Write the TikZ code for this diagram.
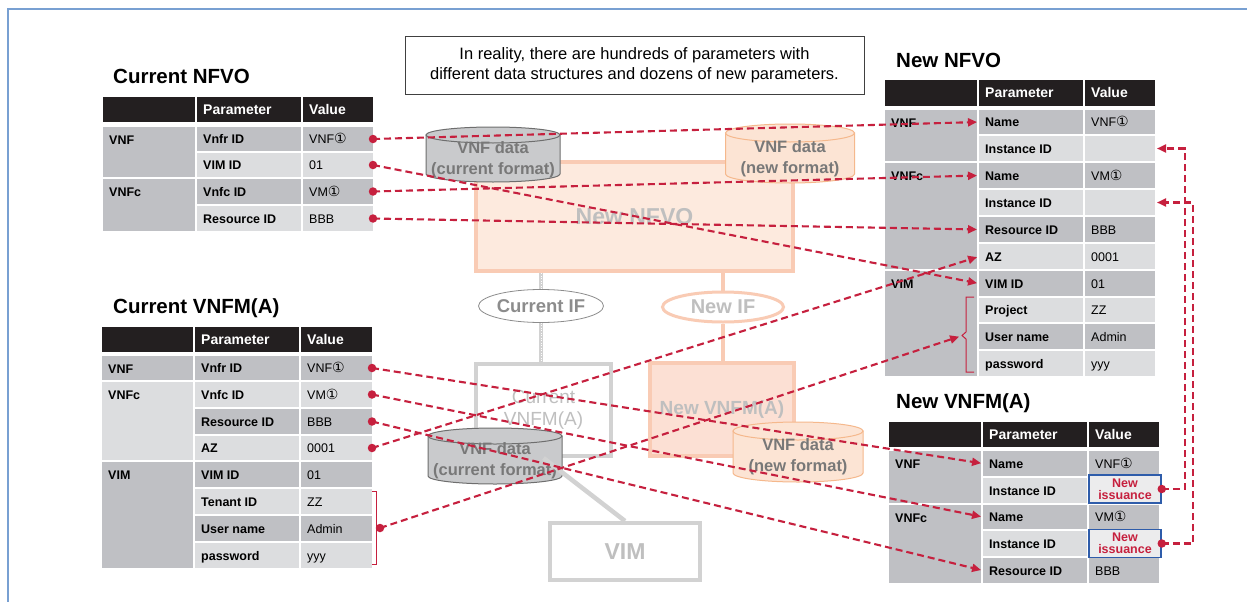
\documentclass[tikz,border=0pt]{standalone}
\usepackage{fontspec}
\setmainfont{Liberation Sans}
\newfontfamily\symf{DejaVu Sans}
\usetikzlibrary{arrows.meta,shapes.geometric}
\definecolor{hdr}{RGB}{35,31,32}
\definecolor{cdark}{RGB}{191,192,196}
\definecolor{clight}{RGB}{220,221,223}
\definecolor{redc}{RGB}{198,32,62}
\definecolor{frameblue}{RGB}{120,160,210}
\definecolor{fadegray}{RGB}{191,191,191}
\definecolor{boxgray}{RGB}{210,210,210}
\definecolor{peachfill}{RGB}{253,234,222}
\definecolor{peachdraw}{RGB}{249,203,180}
\definecolor{peachfilltwo}{RGB}{252,224,212}
\definecolor{cylgray}{RGB}{201,202,204}
\definecolor{cylgraydraw}{RGB}{110,110,110}
\definecolor{cylorange}{RGB}{252,228,212}
\definecolor{cylorangedraw}{RGB}{245,184,140}
\definecolor{cyltext}{RGB}{120,120,120}
\definecolor{issueblue}{RGB}{46,92,170}
\definecolor{ifgray}{RGB}{140,140,140}
\newcommand\cone{{\symf\fontsize{14}{14}\selectfont ①}}
\tikzset{
  cellnode/.style={rectangle, draw=none, inner sep=0pt, outer sep=0pt},
  ptext/.style={inner sep=0pt, font=\fontsize{12.5}{14}\selectfont\bfseries},
  vtext/.style={inner sep=0pt, font=\fontsize{12.5}{14}\selectfont},
  htext/.style={inner sep=0pt, text=white, font=\fontsize{14}{16}\selectfont\bfseries},
  ttl/.style={inner sep=0pt, anchor=base west, font=\fontsize{20.5}{24}\selectfont\bfseries},
  dot/.style={circle, fill=redc, draw=none, inner sep=0pt, minimum size=8.5pt},
  conn/.style={redc, line width=2.1pt, dash pattern=on 7pt off 4pt, shorten >=2pt, -{Triangle[length=9pt,width=8pt]}},
  cyltxt/.style={align=center, text=cyltext, font=\fontsize{16.5}{21}\selectfont\bfseries, inner sep=0pt},
  fadebox/.style={rectangle, line width=4pt, inner sep=0pt},
}
\newcommand\cellbox[8]{%
  \node[cellnode, fill=#6, minimum width={#4-#2}, minimum height={#5-#3}] (#1) at ({(#2+#4)/2},{(#3+#5)/2}) {};
  \node[#7, anchor=base west] (#1-t) at ([xshift=6pt,yshift=-4.6pt]#1.west) {#8};}
\newcommand\trow[6]{%
  \cellbox{#1p}{\colPa}{#2}{\colPb}{#3}{#4}{ptext}{#5}
  \cellbox{#1v}{\colVa}{#2}{\colVb}{#3}{#4}{vtext}{#6}}
\newcommand\grp[5]{%
  \node[cellnode, fill=#4, minimum width={\colGb-\colGa}, minimum height={#3-#2}] (#1) at ({(\colGa+\colGb)/2},{(#2+#3)/2}) {};
  \node[ptext, anchor=base west] (#1-t) at ({\colGa+6},{#2+17}) {#5};}
\newcommand\hdrrow[3]{%
  \cellbox{#1a}{\colGa}{#2}{\colGb}{#3}{hdr}{htext}{}
  \cellbox{#1b}{\colPa}{#2}{\colPb}{#3}{hdr}{htext}{Parameter}
  \cellbox{#1c}{\colVa}{#2}{\colVb}{#3}{hdr}{htext}{Value}}
\newcommand\cyl[9]{%
  \filldraw[fill=#7, draw=#8, line width=1pt] ({#2-#5/2},#3) -- ({#2-#5/2},#4) arc[start angle=180, end angle=0, x radius={#5/2}, y radius=#6] -- ({#2+#5/2},#3) -- cycle;
  \filldraw[fill=#7, draw=#8, line width=1pt] (#2,#3) ellipse[x radius={#5/2}, y radius=#6];
  \node[cyltxt] (#1) at (#2,{(#3+#4)/2+5}) {#9};}
\begin{document}
\begin{tikzpicture}[x=1pt,y=-1pt]
\useasboundingbox (0,0) rectangle (1247,602);
\fill[white] (0,0) rectangle (1247,602);
\draw[frameblue, line width=1.5pt] (8,602) -- (8,9) -- (1247,9);

% note
\node[draw=black!75, line width=0.8pt, minimum width=459, minimum height=58, align=center, inner sep=0pt,
  font=\fontsize{16.5}{20}\selectfont] (note) at (634.5,65) {In reality, there are hundreds of parameters with\\different data structures and dozens of new parameters.};

% background system diagram
\node[fadebox, draw=peachdraw, fill=peachfill, minimum width=317, minimum height=109,
  text=fadegray, font=\fontsize{23}{26}\selectfont\bfseries] (nfvo) at (634.5,216.5) {New NFVO};
\node[fadebox, draw=boxgray, fill=white, minimum width=135, minimum height=92, align=center,
  text=fadegray, font=\fontsize{19}{22}\selectfont] (cvnfm) at (543.5,410) {Current\\VNFM(A)};
\node[fadebox, draw=peachdraw, fill=peachfilltwo, minimum width=144, minimum height=93,
  text=fadegray, font=\fontsize{19}{22}\selectfont\bfseries] (nvnfm) at (722,409.5) {New VNFM(A)};
\node[fadebox, draw=boxgray, fill=white, minimum width=150, minimum height=57,
  text=fadegray, font=\fontsize{23}{26}\selectfont\bfseries] (vim) at (625,551.5) {VIM};
\node[ellipse, draw=ifgray, line width=0.8pt, fill=white, minimum width=108, minimum height=33, inner sep=0pt,
  text=ifgray, font=\fontsize{18.5}{20}\selectfont\bfseries] (cif) at (541,306) {Current IF};
\node[ellipse, draw=peachdraw, line width=3pt, fill=white, minimum width=121, minimum height=30, inner sep=0pt,
  text=fadegray, font=\fontsize{20}{22}\selectfont\bfseries] (nif) at (723,307) {New IF};
\draw[boxgray, line width=4pt] (cif.north) -- (cif.north |- nfvo.south);
\draw[boxgray, line width=4pt] (cif.south) -- (cif.south |- cvnfm.north);
\draw[white, line width=1pt, dash pattern=on 1pt off 1.5pt] (cif.north) -- (cif.north |- nfvo.south);
\draw[white, line width=1pt, dash pattern=on 1pt off 1.5pt] (cif.south) -- (cif.south |- cvnfm.north);
\draw[peachdraw, line width=4pt] (nif.north) -- (nif.north |- nfvo.south);
\draw[peachdraw, line width=4pt] (nif.south) -- (nif.south |- nvnfm.north);

\cyl{cylA}{493}{135}{174}{134}{8}{cylgray}{cylgraydraw}{VNF data\\(current format)}
\cyl{cylB}{790}{133}{174}{129}{9}{cylorange}{cylorangedraw}{VNF data\\(new format)}
\cyl{cylC}{495}{436}{476}{134}{8}{cylgray}{cylgraydraw}{VNF data\\(current format)}
\cyl{cylD}{798}{431}{473}{130}{9}{cylorange}{cylorangedraw}{VNF data\\(new format)}
\draw[boxgray, line width=4.5pt] (cvnfm.south) -- (vim.north);

% Current NFVO
\node[ttl] (tcn) at (113,83) {Current NFVO};
\def\colGa{103}\def\colGb{195}\def\colPa{197}\def\colPb{301}\def\colVa{303}\def\colVb{373}
\hdrrow{cnh}{97}{122}
\grp{cng1}{127}{177}{cdark}{VNF}
\grp{cng2}{179}{231}{cdark}{VNFc}
\trow{cn1}{127}{151}{cdark}{Vnfr ID}{VNF\cone}
\trow{cn2}{153}{177}{clight}{VIM ID}{01}
\trow{cn3}{179}{204}{cdark}{Vnfc ID}{VM\cone}
\trow{cn4}{206}{231}{clight}{Resource ID}{BBB}

% Current VNFM(A)
\node[ttl] (tcv) at (113,313) {Current VNFM(A)};
\def\colGa{102}\def\colGb{193}\def\colPa{195}\def\colPb{299}\def\colVa{301}\def\colVb{372}
\hdrrow{cvh}{327}{352}
\grp{cvg1}{356}{380}{cdark}{VNF}
\grp{cvg2}{382}{460}{clight}{VNFc}
\grp{cvg3}{462}{568}{cdark}{VIM}
\trow{cv1}{356}{380}{cdark}{Vnfr ID}{VNF\cone}
\trow{cv2}{382}{407}{clight}{Vnfc ID}{VM\cone}
\trow{cv3}{409}{434}{cdark}{Resource ID}{BBB}
\trow{cv4}{436}{460}{clight}{AZ}{0001}
\trow{cv5}{462}{487}{cdark}{VIM ID}{01}
\trow{cv6}{489}{514}{clight}{Tenant ID}{ZZ}
\trow{cv7}{516}{541}{cdark}{User name}{Admin}
\trow{cv8}{543}{568}{clight}{password}{yyy}

% New NFVO
\node[ttl] (tnn) at (896,67) {New NFVO};
\def\colGa{885}\def\colGb{977}\def\colPa{979}\def\colPb{1083}\def\colVa{1085}\def\colVb{1155}
\hdrrow{nnh}{80}{106}
\grp{nng1}{110}{161}{cdark}{VNF}
\grp{nng2}{163}{269}{cdark}{VNFc}
\grp{nng3}{271}{376}{cdark}{VIM}
\trow{nn1}{110}{134}{cdark}{Name}{VNF\cone}
\trow{nn2}{136}{161}{clight}{Instance ID}{}
\trow{nn3}{163}{188}{cdark}{Name}{VM\cone}
\trow{nn4}{190}{215}{clight}{Instance ID}{}
\trow{nn5}{217}{242}{cdark}{Resource ID}{BBB}
\trow{nn6}{244}{269}{clight}{AZ}{0001}
\trow{nn7}{271}{296}{cdark}{VIM ID}{01}
\trow{nn8}{298}{322}{clight}{Project}{ZZ}
\trow{nn9}{324}{349}{cdark}{User name}{Admin}
\trow{nn10}{351}{376}{clight}{password}{yyy}

% New VNFM(A)
\node[ttl] (tnv) at (896,408) {New VNFM(A)};
\def\colGa{889}\def\colGb{981}\def\colPa{983}\def\colPb{1087}\def\colVa{1089}\def\colVb{1159}
\hdrrow{nvh}{422}{447}
\grp{nvg1}{451}{503}{cdark}{VNF}
\grp{nvg2}{505}{583}{cdark}{VNFc}
\trow{nv1}{451}{476}{cdark}{Name}{VNF\cone}
\trow{nv2}{478}{503}{clight}{Instance ID}{}
\trow{nv3}{505}{529}{cdark}{Name}{VM\cone}
\trow{nv4}{531}{556}{clight}{Instance ID}{}
\trow{nv5}{558}{583}{cdark}{Resource ID}{BBB}
\node[draw=issueblue, line width=1.5pt, fill=clight!55!white, minimum width=72, minimum height=28, inner sep=0pt,
  align=center, text=redc, font=\fontsize{12.5}{12}\selectfont\bfseries] (iss1) at (1125,489) {New\\issuance};
\node[draw=issueblue, line width=1.5pt, fill=clight!55!white, minimum width=72, minimum height=28, inner sep=0pt,
  align=center, text=redc, font=\fontsize{12.5}{12}\selectfont\bfseries] (iss2) at (1125,543.5) {New\\issuance};

% brackets
\draw[redc, line width=1pt] (372,491) -- (376,491) -- (376,564) -- (372,564);
\draw[redc, line width=1pt] (974,297) -- (966,297) -- (966,332) -- (962,335.5) -- (966,339) -- (966,372) -- (974,372);
\coordinate (brR) at (961,336);

% dots
\node[dot] (d1) at (cn1v.east) {};
\node[dot] (d2) at (cn2v.east) {};
\node[dot] (d3) at (cn3v.east) {};
\node[dot] (d4) at (cn4v.east) {};
\node[dot] (d5) at (cv1v.east) {};
\node[dot] (d6) at (cv2v.east) {};
\node[dot] (d7) at (cv3v.east) {};
\node[dot] (d8) at (cv4v.east) {};
\node[dot] (d9) at (380,528) {};
\node[dot] (d10) at (iss1.east) {};
\node[dot] (d11) at (iss2.east) {};

% connectors
\draw[conn] (d1.center) -- (nn1p.west);
\draw[conn] (d2.center) -- (nn7p.west);
\draw[conn] (d3.center) -- (nn3p.west);
\draw[conn] (d4.center) -- (nn5p.west);
\draw[conn] (d5.center) -- (nv1p.west);
\draw[conn] (d6.center) -- (nv3p.west);
\draw[conn] (d7.center) -- (nv5p.west);
\draw[conn] (d8.center) -- (nn6p.west);
\draw[conn] (d9.center) -- (brR);
\draw[conn] (d10.center) -- ++(23,0) |- (nn2v.east);
\draw[conn] (d11.center) -- ++(31,0) |- (nn4v.east);
\end{tikzpicture}
\end{document}
